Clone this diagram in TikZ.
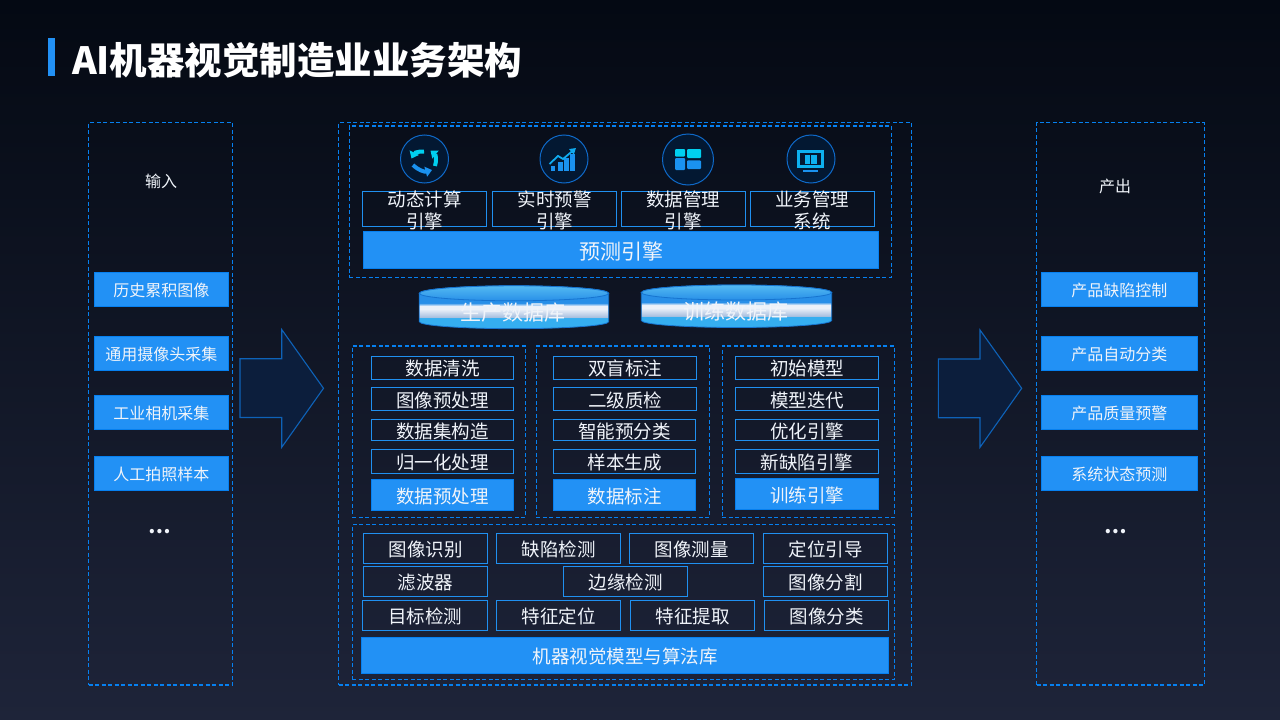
\documentclass[tikz,border=0pt]{standalone}
\usepackage{fontspec}
\setmainfont{Noto Sans CJK SC}
\usepackage{xcolor}
\usetikzlibrary{arrows.meta,positioning}
\definecolor{sceneTop}{RGB}{4,9,19}
\definecolor{sceneMid}{RGB}{11,17,37}
\definecolor{sceneBot}{RGB}{30,36,57}
\definecolor{dashblue}{RGB}{6,128,240}
\definecolor{lineblue}{RGB}{32,144,240}
\definecolor{barblue}{RGB}{34,145,245}
\definecolor{labelwhite}{RGB}{240,244,250}
\definecolor{arrowfill}{RGB}{12,30,60}
\definecolor{arrowline}{RGB}{14,98,184}
\definecolor{iconfill}{RGB}{3,24,50}
\definecolor{iconline}{RGB}{15,105,200}
\definecolor{iconcyan}{RGB}{0,208,240}
\definecolor{iconblue}{RGB}{26,146,240}
\definecolor{dbsky}{RGB}{53,174,240}
\definecolor{dbsilver}{RGB}{168,192,224}
\definecolor{dbwhite}{RGB}{236,241,249}
\definecolor{dbblue}{RGB}{40,143,232}
\definecolor{dbedge}{RGB}{22,116,208}
\pgfdeclareverticalshading{dbbody}{100bp}{color(0bp)=(dbsky); color(37.5bp)=(dbsky); color(38.5bp)=(dbsilver); color(48bp)=(dbwhite); color(51.5bp)=(dbwhite); color(55bp)=(dbblue); color(100bp)=(dbblue)}

\begin{document}
\begin{tikzpicture}[
    x=1pt, y=-1pt,
    every node/.style={inner sep=0pt, outer sep=0pt, text=labelwhite, align=center},
    dashpanel/.style 2 args={draw=dashblue, line width=1.15pt, dash pattern=on 4pt off 2.5pt, minimum width=#1, minimum height=#2},
    linebox/.style 2 args={draw=lineblue, line width=1.1pt, minimum width=#1, minimum height=#2, font=\fontsize{18.5}{22}\selectfont, text height=17pt, text depth=1pt},
    fillbox/.style 2 args={draw=dashblue, line width=1pt, fill=barblue, minimum width=#1, minimum height=#2, font=\fontsize{18.5}{22}\selectfont, text height=17pt, text depth=1pt},
    sidebox/.style={fillbox={#1}{33.8}, font=\fontsize{16}{20}\selectfont, text height=15pt, text depth=1pt},
    enginetext/.style={font=\fontsize{18.5}{22}\selectfont, yshift=-1pt},
    iconring/.style={draw=iconline, line width=1pt, fill=iconfill},
    cyclearrow/.style={line width=4pt, -{Triangle[length=6.5pt,width=10pt]}},
    blockarrow/.style={draw=arrowline, line width=1.1pt, fill=arrowfill},
    dbtop/.style={draw=dbedge, line width=.8pt, top color=dbsky!85!white, bottom color=dbblue},
    dblabel/.style={font=\fontsize{21}{24}\selectfont},
    moredots/.style={font=\fontsize{20}{24}\selectfont\bfseries}
]
\useasboundingbox (0,0) rectangle (1280,720);
\shade[top color=sceneTop, middle color=sceneMid, bottom color=sceneBot] (0,0) rectangle (1280,720);

% title
\fill[barblue] (48.4,37.7) rectangle (55.4,76);
\node[anchor=west, font=\fontsize{37.5}{40}\selectfont\bfseries, text=white] (title) at (72,60) {AI机器视觉制造业业务架构};

% input column
\node[dashpanel={144}{562.5}] (inputPanel) at (160.5,403.8) {};
\node[font=\fontsize{16}{20}\selectfont] (inputLabel) at (161,181.7) {输入};
\node[sidebox=134.2] (inHistory) at (161.4,289.3) {历史累积图像};
\node[sidebox=134.2] (inCamera) at (161.4,353.3) {通用摄像头采集};
\node[sidebox=134.2] (inIndustrial) at (161.4,412.3) {工业相机采集};
\node[sidebox=134.2] (inManual) at (161.4,473.8) {人工拍照样本};
\node[moredots] (inMore) at (159.8,532) {…};

\draw[blockarrow] (240,358.7) -- (281.7,358.7) -- (281.7,329.5) -- (323.5,388.3) -- (281.7,447.3) -- (281.7,417.5) -- (240,417.5) -- cycle;

% middle column
\node[dashpanel={573}{562.5}] (mainPanel) at (625,403.8) {};
\node[dashpanel={542}{151.3}] (predictPanel) at (620.3,201.7) {};

\draw[iconring] (424.5,159) circle (24);
\draw[iconring] (564,159) circle (24);
\draw[iconring] (688,159.5) circle (25.5);
\draw[iconring] (811,159) circle (24);

% icon: three arrows
\draw[iconcyan, cyclearrow] (424,151.5) to[bend right=35] (411.5,158.5);
\draw[iconcyan, cyclearrow] (435,166) to[bend right=35] (430.5,150.5);
\draw[iconblue, cyclearrow] (413,165) to[bend right=30] (432,170);
% icon: bars and trend
\fill[iconblue] (551,165.5) rectangle (555.3,171);
\fill[iconblue] (557.7,162) rectangle (562.7,171);
\fill[iconblue] (564,158) rectangle (569,171);
\fill[iconblue] (570.3,154) rectangle (574.5,171);
\draw[iconblue!60!iconcyan, line width=1.8pt, -{Triangle[length=6pt,width=7pt]}] (549.5,164) -- (558,156) -- (563,159) -- (576,148);
% icon: tiles
\fill[iconcyan, rounded corners=1pt] (675,149) rectangle (685,156.7);
\fill[iconblue, rounded corners=1pt] (675,158) rectangle (685,170);
\fill[iconcyan, rounded corners=1pt] (687,149) rectangle (701,158);
\fill[iconblue, rounded corners=1pt] (687,160.3) rectangle (701,169);
% icon: screen and book
\fill[iconblue!50!iconcyan] (796.7,150) rectangle (824,168.3);
\fill[iconfill] (800,153.3) rectangle (820.7,164.5);
\fill[iconblue!50!iconcyan] (804.5,155) rectangle (810,163.5);
\fill[iconblue!50!iconcyan] (811,155) rectangle (816.5,163.5);
\fill[iconblue] (803,170.3) rectangle (818,171.8);

\node[linebox={124.4}{35.4}, label={[enginetext]center:{动态计算\\引擎}}] (engineCalc) at (424.5,209) {};
\node[linebox={124.4}{35.4}, label={[enginetext]center:{实时预警\\引擎}}] (engineAlert) at (554.5,209) {};
\node[linebox={124.4}{35.4}, label={[enginetext]center:{数据管理\\引擎}}] (engineData) at (683.3,209) {};
\node[linebox={124.4}{35.4}, label={[enginetext]center:{业务管理\\系统}}] (engineBiz) at (812.3,209) {};
\node[fillbox={515.4}{37.2}, font=\fontsize{21}{24}\selectfont, text height=20pt, text depth=1pt] (predictBar) at (621,249.8) {预测引擎};

% databases
\fill[shading=dbbody, draw=dbedge, line width=.8pt] (419.3,293.3) -- (419.3,321.7) arc[start angle=180, end angle=360, x radius=94.7, y radius=-7] -- (608.7,293.3) arc[start angle=0, end angle=180, x radius=94.7, y radius=-7.5] -- cycle;
\draw[dbtop] (514,293.3) ellipse[x radius=94.7, y radius=7.5];
\node[dblabel] (dbProd) at (513,312.5) {生产数据库};
\fill[shading=dbbody, draw=dbedge, line width=.8pt] (641.3,292.5) -- (641.3,320.5) arc[start angle=180, end angle=360, x radius=95.2, y radius=-7] -- (831.7,292.5) arc[start angle=0, end angle=180, x radius=95.2, y radius=-7.5] -- cycle;
\draw[dbtop] (736.5,292.5) ellipse[x radius=95.2, y radius=7.5];
\node[dblabel] (dbTrain) at (735.5,311.5) {训练数据库};

% preprocessing
\node[dashpanel={173.4}{171.3}] (prePanel) at (439,431.7) {};
\node[linebox={142.4}{23}] (preClean) at (442.5,367.8) {数据清洗};
\node[linebox={142.4}{23.4}] (preImage) at (442.5,399) {图像预处理};
\node[linebox={142.4}{21.4}] (preBuild) at (442.5,430) {数据集构造};
\node[linebox={142.4}{24.4}] (preNorm) at (442.5,461.5) {归一化处理};
\node[fillbox={142.4}{31}] (preBar) at (442.5,495) {数据预处理};

% labelling
\node[dashpanel={173}{171.3}] (tagPanel) at (622.8,431.7) {};
\node[linebox={143.4}{23}] (tagBlind) at (625,367.8) {双盲标注};
\node[linebox={143.4}{23.4}] (tagCheck) at (625,399) {二级质检};
\node[linebox={142.4}{21.4}] (tagSmart) at (624.5,430) {智能预分类};
\node[linebox={142.4}{24.4}] (tagSample) at (624.5,461.5) {样本生成};
\node[fillbox={142.4}{31}] (tagBar) at (624.5,495) {数据标注};

% training
\node[dashpanel={172.4}{171.3}] (trainPanel) at (808.5,431.7) {};
\node[linebox={143.4}{23}] (trainInit) at (807,367.8) {初始模型};
\node[linebox={143.4}{23.4}] (trainIter) at (807,399) {模型迭代};
\node[linebox={143.4}{21.4}] (trainOpt) at (807,430) {优化引擎};
\node[linebox={143.4}{24.4}] (trainNew) at (807,461.5) {新缺陷引擎};
\node[fillbox={143.4}{31}] (trainBar) at (807,494) {训练引擎};

% algorithms
\node[dashpanel={542.4}{154.6}] (algoPanel) at (623.5,602) {};
\node[linebox={124.4}{30.4}] (algoRecog) at (425.5,548.5) {图像识别};
\node[linebox={124.4}{30.4}] (algoDefect) at (558.5,548.5) {缺陷检测};
\node[linebox={124.4}{30.4}] (algoMeasure) at (691.5,548.5) {图像测量};
\node[linebox={124.4}{30.4}] (algoGuide) at (825.5,548.5) {定位引导};
\node[linebox={124.4}{30.4}] (algoFilter) at (425.5,581.5) {滤波器};
\node[linebox={124.4}{30.4}] (algoEdge) at (625.5,581.5) {边缘检测};
\node[linebox={124.4}{30.4}] (algoSegment) at (825.5,581.5) {图像分割};
\node[linebox={124.4}{30.4}] (algoDetect) at (425,615.5) {目标检测};
\node[linebox={124.4}{30.4}] (algoLocate) at (558.5,615.5) {特征定位};
\node[linebox={124.4}{30.4}] (algoExtract) at (692.5,615.5) {特征提取};
\node[linebox={124.4}{30.4}] (algoClass) at (826.5,615.5) {图像分类};
\node[fillbox={527.4}{36.2}] (algoBar) at (625,655.5) {机器视觉模型与算法库};

\draw[blockarrow] (938.3,359) -- (980,359) -- (980,330) -- (1021.7,388.3) -- (980,447.3) -- (980,417.7) -- (938.3,417.7) -- cycle;

% output column
\node[dashpanel={167.6}{562.5}] (outputPanel) at (1120.5,403.8) {};
\node[font=\fontsize{16}{20}\selectfont] (outputLabel) at (1115,186.7) {产出};
\node[sidebox=156] (outDefect) at (1119.4,289.3) {产品缺陷控制};
\node[sidebox=156] (outSort) at (1119.4,353.3) {产品自动分类};
\node[sidebox=156] (outQuality) at (1119.4,412.3) {产品质量预警};
\node[sidebox=156] (outState) at (1119.4,473.8) {系统状态预测};
\node[moredots] (outMore) at (1115.7,532) {…};
\end{tikzpicture}
\end{document}
